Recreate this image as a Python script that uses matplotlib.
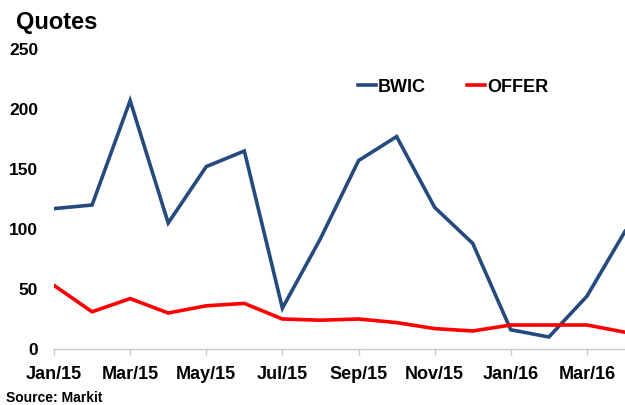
import matplotlib
matplotlib.use("Agg")
import matplotlib.pyplot as plt

plt.rcParams['font.family'] = ['Liberation Sans', 'DejaVu Sans']

months = ["Jan/15", "Feb/15", "Mar/15", "Apr/15", "May/15", "Jun/15", "Jul/15", "Aug/15",
          "Sep/15", "Oct/15", "Nov/15", "Dec/15", "Jan/16", "Feb/16", "Mar/16", "Apr/16"]
bwic = [117, 120, 207, 105, 152, 165, 34, 92, 157, 177, 118, 88, 16, 10, 44, 98]
offer = [53, 31, 42, 30, 36, 38, 25, 24, 25, 22, 17, 15, 20, 20, 20, 14]
yticks = [0, 50, 100, 150, 200, 250]

fig = plt.figure(figsize=(6.25, 4.05), dpi=100)
ax = fig.add_axes([54/625, 1-349/405, 1-54/625, (349-49)/405])

x = list(range(len(months)))
ax.plot(x, bwic, color='#254A7E', lw=2.6, label='BWIC', solid_joinstyle='miter')
ax.plot(x, offer, color='#FF0000', lw=2.6, label='OFFER', solid_joinstyle='miter')

ax.set_xlim(0, len(months) - 1)
ax.set_ylim(0, 250)
ax.set_yticks(yticks)
ax.set_yticklabels([str(v) for v in yticks], fontsize=12.5, fontweight='bold')
ax.set_xticks(x[::2])
ax.set_xticklabels(months[::2], fontsize=13, fontweight='bold')

for s in ['left', 'right', 'top']:
    ax.spines[s].set_visible(False)
ax.spines['bottom'].set_color('#C8C8C8')
ax.spines['bottom'].set_linewidth(1.0)
ax.tick_params(axis='y', length=0, pad=11.5)
ax.tick_params(axis='x', length=4, width=1, color='#C8C8C8', direction='out', pad=8)

leg = ax.legend(loc='center left', bbox_to_anchor=(358/625, 1-87/405),
                bbox_transform=fig.transFigure, ncol=2, frameon=False,
                prop={'weight': 'bold', 'size': 13}, handlelength=1.0,
                handletextpad=0.1, columnspacing=2.3, borderpad=0, borderaxespad=0)

fig.text(16/625, 1-22/405, "Quotes", fontsize=17, fontweight='bold', va='center', ha='left')
fig.text(6/625, 1-398/405, "Source: Markit", fontsize=10, fontweight='bold', va='center', ha='left')

fig.savefig("out.png", dpi=100)
